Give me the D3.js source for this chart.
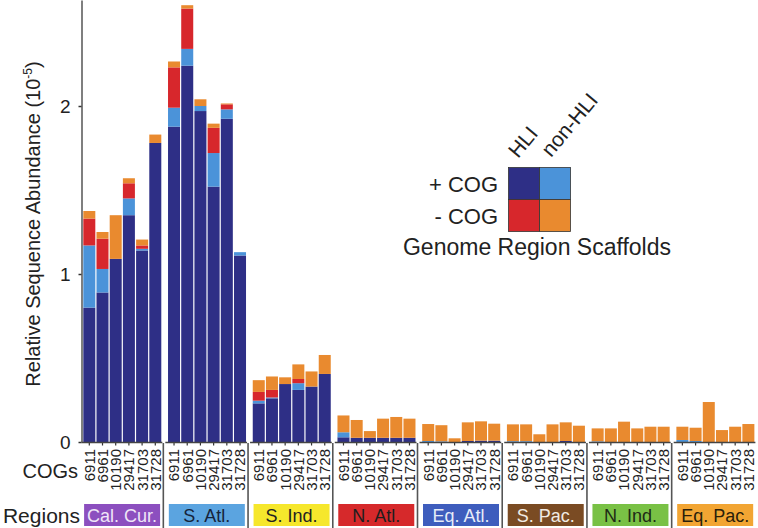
<!DOCTYPE html>
<html><head><meta charset="utf-8">
<script src="https://cdn.jsdelivr.net/npm/d3@7"></script>
<style>body{margin:0;background:#fff} svg{display:block}</style>
</head><body><svg id="c" width="758" height="528"></svg>
<script>
// ---- data ----
const regions = ["Cal. Cur.", "S. Atl.", "S. Ind.", "N. Atl.", "Eq. Atl.", "S. Pac.", "N. Ind.", "Eq. Pac."];
const regionColors = ["#8c4fbf", "#5ba4e0", "#f6e72c", "#d6292b", "#3e5dbd", "#7a4b23", "#79c145", "#f2a533"];
const regionTextColors = ["#efe6f7", "#16233a", "#222222", "#1e1e1e", "#e6ecf8", "#f1ebe4", "#1e2a16", "#2a1e0a"];
const cogs = ["6911", "6961", "10190", "29417", "31703", "31728"];
const yTicks = [0, 1, 2];
const seriesNames = ["HLI +COG", "non-HLI +COG", "HLI -COG", "non-HLI -COG"];
// values in units of 10^-5, 6 COGs per region, regions in order
const hliPlus = [
  0.80, 0.89, 1.09, 1.35, 1.14, 1.78,
  1.877, 2.24, 1.97, 1.52, 1.924, 1.11,
  0.23, 0.26, 0.345, 0.31, 0.33, 0.405,
  0.028, 0.025, 0.025, 0.025, 0.025, 0.025,
  0, 0, 0, 0.006, 0.008, 0.008,
  0, 0, 0, 0, 0.006, 0,
  0, 0, 0, 0, 0, 0,
  0, 0, 0, 0, 0, 0
];
const nonHliPlus = [
  0.37, 0.14, 0, 0.10, 0.01, 0,
  0.113, 0.10, 0.03, 0.20, 0.056, 0.02,
  0.016, 0.005, 0, 0.04, 0, 0,
  0.03, 0, 0, 0, 0, 0,
  0.006, 0.004, 0, 0, 0, 0,
  0.005, 0.005, 0, 0, 0, 0,
  0.004, 0, 0, 0, 0, 0,
  0.012, 0.006, 0, 0, 0, 0
];
const hliMinus = [
  0.16, 0.18, 0, 0.09, 0.02, 0,
  0.24, 0.24, 0, 0.15, 0.03, 0,
  0.052, 0.045, 0, 0.025, 0, 0,
  0, 0, 0, 0, 0, 0,
  0, 0, 0, 0, 0, 0,
  0, 0, 0, 0, 0, 0,
  0, 0, 0, 0, 0, 0,
  0, 0, 0, 0, 0, 0
];
const nonHliMinus = [
  0.045, 0.04, 0.26, 0.03, 0.035, 0.05,
  0.035, 0.02, 0.04, 0.025, 0.005, 0,
  0.07, 0.08, 0.04, 0.087, 0.09, 0.113,
  0.10, 0.106, 0.04, 0.114, 0.124, 0.114,
  0.101, 0.096, 0.022, 0.111, 0.115, 0.101,
  0.10, 0.10, 0.046, 0.105, 0.111, 0.097,
  0.077, 0.081, 0.121, 0.081, 0.091, 0.091,
  0.079, 0.079, 0.238, 0.071, 0.091, 0.107
];
const seriesColors = ["#2e2f86", "#4b93d9", "#d7272c", "#e98a2f"];

// ---- build table ----
const keys = ["hp", "np", "hm", "nm"];
const table = [];
regions.forEach((r, gi) => cogs.forEach((c, ci) => {
  const i = gi * 6 + ci;
  table.push({region: r, cog: c, hp: hliPlus[i], np: nonHliPlus[i], hm: hliMinus[i], nm: nonHliMinus[i]});
}));
const stacked = d3.stack().keys(keys)(table);

const font = "'Liberation Sans', Arial, Helvetica, sans-serif";
const ink = "#222";
const svg = d3.select("#c").style("font-family", font);

const y = d3.scaleLinear().domain([0, 2.631]).range([442, 0]);
const xg = d3.scaleBand().domain(regions).range([78.6, 756.4]);
const xb = d3.scaleBand().domain(cogs).range([4.7, 82.7]).paddingInner(0.09);

// bars
svg.append("g").selectAll("g").data(stacked).join("g")
  .attr("fill", (d, i) => seriesColors[i])
  .selectAll("rect").data(d => d.filter(s => s[1] - s[0] > 0)).join("rect")
  .attr("x", d => xg(d.data.region) + xb(d.data.cog))
  .attr("width", xb.bandwidth())
  .attr("y", d => y(d[1]))
  .attr("height", d => y(d[0]) - y(d[1]));

// y axis
const ya = svg.append("g").attr("transform", "translate(81.5,0)")
  .call(d3.axisLeft(y).tickValues(yTicks).tickSize(3).tickSizeOuter(0).tickPadding(8).tickFormat(d3.format("d")));
ya.select(".domain").attr("stroke", "#555").attr("stroke-width", 1.5);
ya.selectAll(".tick line").attr("stroke", "#333").attr("stroke-width", 1.5);
ya.selectAll(".tick text").attr("font-size", 19).attr("fill", ink).attr("font-family", font);

// y title
svg.append("text")
  .attr("transform", "translate(40,224) rotate(-90)")
  .attr("text-anchor", "middle").attr("font-size", 20).attr("fill", ink)
  .call(t => {
    t.append("tspan").text("Relative Sequence Abundance (10");
    t.append("tspan").attr("font-size", 12).attr("dy", -8).text("-5");
    t.append("tspan").attr("dy", 8).text(")");
  });

// per-group x axes, COG labels, separators, region boxes
regions.forEach((r, gi) => {
  const gx = xg(r);
  const g = svg.append("g").attr("transform", `translate(${gx},442.5)`);
  const ax = d3.axisBottom(xb).tickSize(3).tickSizeOuter(0).tickFormat("");
  g.call(ax);
  g.select(".domain").remove();
  g.selectAll(".tick line").attr("stroke", "#333").attr("stroke-width", 1.2);
  g.append("line").attr("x1", gi === 0 ? 81.5 - gx : 2).attr("x2", xg.bandwidth() - 1)
    .attr("stroke", "#444").attr("stroke-width", 1.5);
  cogs.forEach(c => {
    svg.append("text")
      .attr("transform", `translate(${gx + xb(c) + xb.bandwidth() / 2},449) rotate(-90)`)
      .attr("text-anchor", "end").attr("dy", "0.36em")
      .attr("font-size", 15).attr("fill", ink).text(c);
  });
  if (gi > 0) {
    svg.append("line").attr("x1", gx).attr("x2", gx).attr("y1", 443).attr("y2", 528)
      .attr("stroke", "#555").attr("stroke-width", 1.6);
  }
  svg.append("rect").attr("x", gx + 5.5).attr("y", 504).attr("width", 76).attr("height", 22)
    .attr("fill", regionColors[gi]);
  svg.append("text").attr("x", gx + 5.5 + 38).attr("y", 521.5).attr("text-anchor", "middle")
    .attr("font-size", 18).attr("fill", regionTextColors[gi]).text(r);
});

svg.append("text").attr("x", 78).attr("y", 478).attr("text-anchor", "end")
  .attr("font-size", 20).attr("fill", ink).text("COGs");
svg.append("text").attr("x", 80).attr("y", 522.5).attr("text-anchor", "end")
  .attr("font-size", 21).attr("fill", ink).text("Regions");

// legend
const lx = 508.5, ly = 167.5, cw = 31, ch = 32;
const lg = svg.append("g");
const cells = [[0, 0, 0], [1, 0, 1], [0, 1, 2], [1, 1, 3]];
cells.forEach(([cx, cy, k]) => {
  lg.append("rect").attr("x", lx + cx * cw).attr("y", ly + cy * ch).attr("width", cw).attr("height", ch)
    .attr("fill", seriesColors[k]).attr("stroke", "#333").attr("stroke-width", 0.8);
});
lg.append("text").attr("x", 498).attr("y", 191.5).attr("text-anchor", "end").attr("font-size", 22).attr("fill", ink).text("+ COG");
lg.append("text").attr("x", 498).attr("y", 223.5).attr("text-anchor", "end").attr("font-size", 22).attr("fill", ink).text("- COG");
lg.append("text").attr("transform", "translate(518,159) rotate(-50)").attr("font-size", 21).attr("fill", ink).text("HLI");
lg.append("text").attr("transform", "translate(551,158) rotate(-50)").attr("font-size", 21).attr("fill", ink).text("non-HLI");
lg.append("text").attr("x", 537).attr("y", 255).attr("text-anchor", "middle").attr("font-size", 23).attr("fill", ink).text("Genome Region Scaffolds");
</script></body></html>
